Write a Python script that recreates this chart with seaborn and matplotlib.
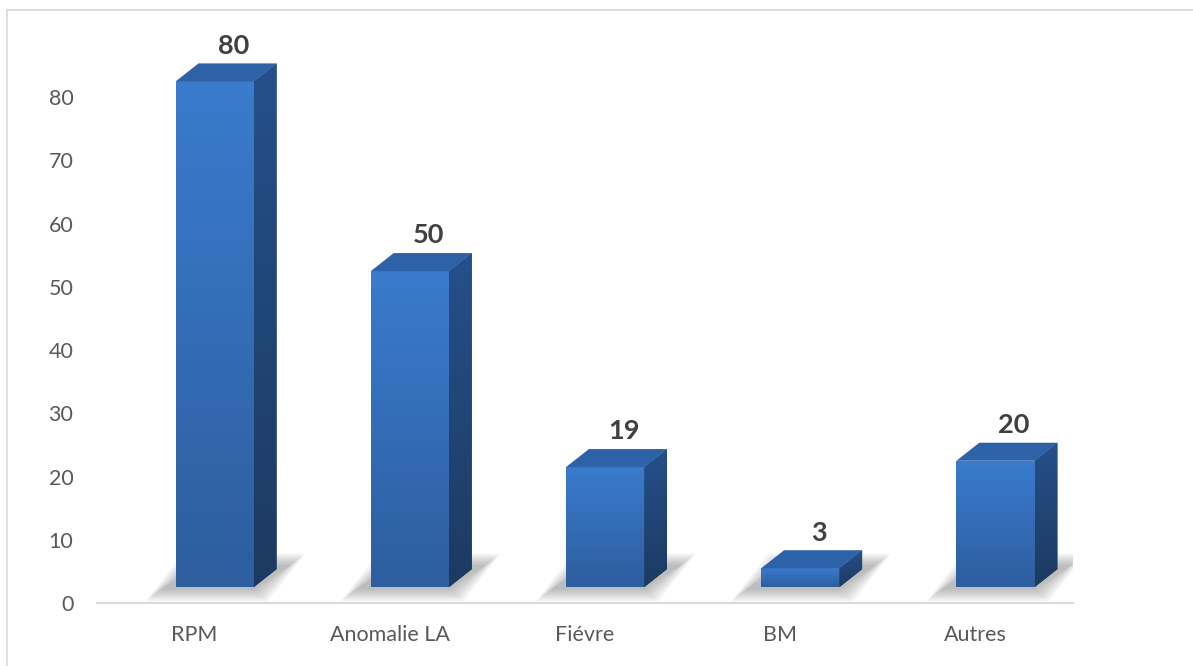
import numpy as np
import matplotlib
matplotlib.use("Agg")
import matplotlib.pyplot as plt
import seaborn as sns
from matplotlib.patches import Polygon
from matplotlib.colors import LinearSegmentedColormap
from matplotlib.lines import Line2D

categories = ["RPM", "Anomalie LA", "Fiévre", "BM", "Autres"]
values = [80, 50, 19, 3, 20]
yticks = [0, 10, 20, 30, 40, 50, 60, 70, 80]

sns.set_theme(style="white")
plt.rcParams["font.family"] = ["Lato", "DejaVu Sans"]

W, H = 1193, 666
fig = plt.figure(figsize=(W / 100, H / 100), dpi=100)
ax = fig.add_axes([97 / W, (H - 603) / H, 976 / W, 569 / H])

sns.barplot(x=categories, y=values, width=0.4, color="#3470bd", ax=ax,
            saturation=1, zorder=3, linewidth=0)

ax.set_xlim(-0.5, 4.5)
ax.set_ylim(0, 90)

# 3D geometry (data units)
xoff = 0.103   # front face shift right
base = 2.5     # floor lift of the front face
dx = 0.117     # depth in x
dy = 2.85      # depth in y

front_cmap = LinearSegmentedColormap.from_list("f", ["#2d5e9e", "#3a7bcd"])
side_cmap = LinearSegmentedColormap.from_list("s", ["#1d3a61", "#25508a"])

for p, v in zip(ax.patches, values):
    p.set_x(p.get_x() + xoff)
    p.set_y(p.get_y() + base)
    x0 = p.get_x()
    x1 = x0 + p.get_width()
    y0 = p.get_y()
    y1 = y0 + p.get_height()

    # floor shadow (blurred by layering)
    for k in range(7):
        e = k * 0.012
        ey = k * 0.3
        sh = Polygon([(x0 - 0.08 - e, y0 - 0.4 - ey),
                      (x1 + e, y0 - 0.4 - ey),
                      (x1 + 0.19 + e, y0 + 3.5 + ey),
                      (x0 + 0.11 - e, y0 + 3.5 + ey)],
                     closed=True, facecolor="#6e6e6e", edgecolor="none",
                     alpha=0.08, zorder=1)
        ax.add_patch(sh)

    # front face gradient
    grad = np.linspace(0, 1, 100).reshape(-1, 1)
    im = ax.imshow(grad, extent=[x0, x1, y0, y1], origin="lower",
                   cmap=front_cmap, aspect="auto", zorder=3.5)
    im.set_clip_path(p)

    # side face
    side = Polygon([(x1, y0), (x1 + dx, y0 + dy), (x1 + dx, y1 + dy), (x1, y1)],
                   closed=True, facecolor="#22466f", edgecolor="none", zorder=3)
    ax.add_patch(side)
    im2 = ax.imshow(grad, extent=[x1, x1 + dx, y0, y1 + dy], origin="lower",
                    cmap=side_cmap, aspect="auto", zorder=3.5)
    im2.set_clip_path(side)

    # top face
    top = Polygon([(x0, y1), (x1, y1), (x1 + dx, y1 + dy), (x0 + dx, y1 + dy)],
                  closed=True, facecolor="#2d62a8", edgecolor="none", zorder=4,
                  clip_on=False)
    ax.add_patch(top)

    # value label
    ax.text((x0 + x1) / 2 + 0.095, y1 + dy + 0.9, f"{v}", ha="center",
            va="bottom", fontsize=19.5, fontweight="bold", color="#404040",
            zorder=6, clip_on=False)

ax.set_xlim(-0.5, 4.5)
ax.set_ylim(0, 90)

# axes styling
for s in ["left", "right", "top"]:
    ax.spines[s].set_visible(False)
ax.spines["bottom"].set_color("#d9d9d9")
ax.spines["bottom"].set_linewidth(1.5)
ax.spines["bottom"].set_zorder(2)

ax.set_yticks(yticks)
ax.set_yticklabels([str(t) for t in yticks])
ax.tick_params(axis="y", length=0, pad=17, labelsize=15.5, labelcolor="#595959")
ax.set_xticks(range(len(categories)))
ax.set_xticklabels(categories)
ax.tick_params(axis="x", which="major", length=0, pad=16, labelsize=15.5,
               labelcolor="#595959")
ax.set_xticks(np.arange(-0.5, 5, 1.0), minor=True)
ax.tick_params(axis="x", which="minor", length=6, width=1.5, color="#d9d9d9",
               direction="out")
ax.set_xlabel("")
ax.set_ylabel("")
ax.grid(False)

# chart-area border (top and left visible)
fig.add_artist(Line2D([7.5 / W, 1.0], [1 - 9.5 / H, 1 - 9.5 / H],
                      transform=fig.transFigure, color="#d9d9d9", lw=1.2))
fig.add_artist(Line2D([7.5 / W, 7.5 / W], [0, 1 - 9.5 / H],
                      transform=fig.transFigure, color="#d9d9d9", lw=1.2))

fig.savefig("out.png", dpi=100, facecolor="white")
